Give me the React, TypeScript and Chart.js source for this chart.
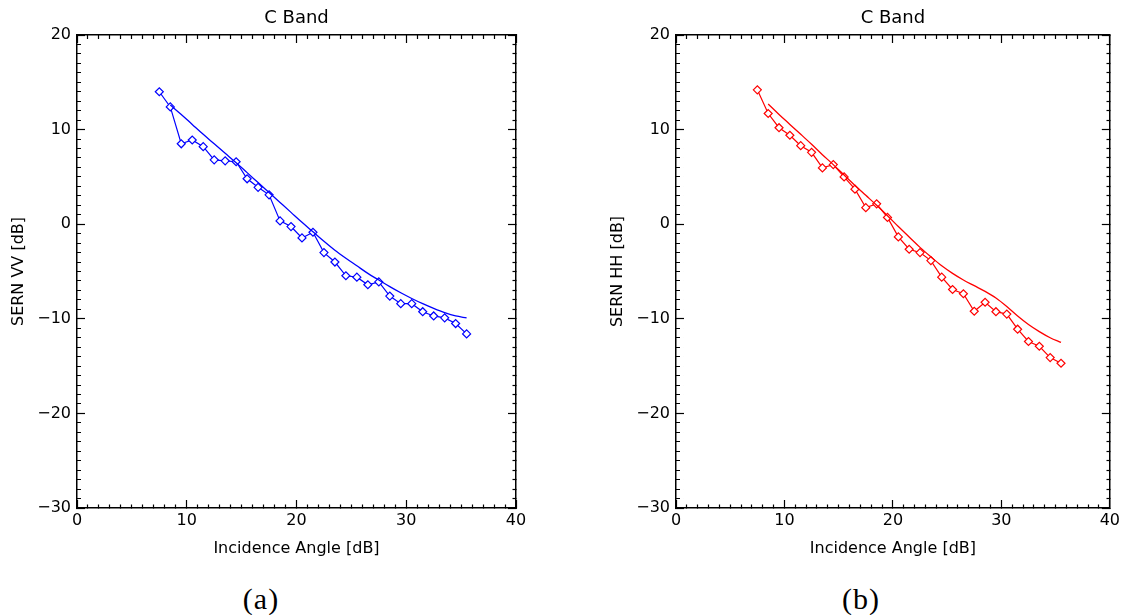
import React, { useEffect, useRef } from "react";
import { Chart, registerables } from "chart.js";

Chart.register(...registerables);

// ---------- data ----------
const angles = [7.5, 8.5, 9.5, 10.5, 11.5, 12.5, 13.5, 14.5, 15.5, 16.5, 17.5, 18.5, 19.5, 20.5, 21.5, 22.5, 23.5, 24.5, 25.5, 26.5, 27.5, 28.5, 29.5, 30.5, 31.5, 32.5, 33.5, 34.5, 35.5];
const sernVV = [14.0, 12.4, 8.5, 8.9, 8.2, 6.8, 6.7, 6.6, 4.8, 3.9, 3.1, 0.35, -0.25, -1.45, -0.85, -3.0, -4.0, -5.45, -5.6, -6.4, -6.1, -7.6, -8.4, -8.4, -9.25, -9.7, -9.9, -10.5, -11.6];
const sernHH = [14.2, 11.7, 10.2, 9.4, 8.3, 7.6, 5.95, 6.3, 5.0, 3.7, 1.75, 2.15, 0.72, -1.34, -2.65, -3.0, -3.85, -5.6, -6.9, -7.35, -9.2, -8.25, -9.25, -9.5, -11.1, -12.4, -12.9, -14.1, -14.7];
const fitAngles = [8.5, 9.5, 10.5, 11.5, 12.5, 13.5, 14.5, 15.5, 16.5, 17.5, 18.5, 19.5, 20.5, 21.5, 22.5, 23.5, 24.5, 25.5, 26.5, 27.5, 28.5, 29.5, 30.5, 31.5, 32.5, 33.5, 34.5, 35.5];
const fitVV = [12.6, 11.6, 10.55, 9.5, 8.5, 7.5, 6.5, 5.45, 4.4, 3.35, 2.3, 1.25, 0.2, -0.8, -1.8, -2.75, -3.6, -4.4, -5.2, -5.9, -6.6, -7.25, -7.85, -8.4, -8.9, -9.35, -9.7, -9.9];
const fitHH = [12.7, 11.6, 10.55, 9.5, 8.45, 7.35, 6.3, 5.2, 4.1, 3.05, 2.0, 0.9, -0.25, -1.35, -2.45, -3.45, -4.4, -5.2, -5.9, -6.5, -7.1, -7.8, -8.7, -9.7, -10.6, -11.35, -12.0, -12.5];

const xTickStep = 1;
const yTickStep = 1;
const majorEvery = 10;
const xRange = [0, 40];
const yRange = [-30, 20];
const chartTitle = "C Band";
const xTitle = "Incidence Angle [dB]";
const yTitles = ["SERN VV [dB]", "SERN HH [dB]"];
const captions = ["(a)", "(b)"];

const FONT = "'DejaVu Sans', 'Liberation Sans', sans-serif";

const isMajor = (v: number) => Math.abs(Math.round(v) % majorEvery) === 0;
const fmt = (v: any) => {
  const n = Number(v);
  if (!isMajor(n)) return "";
  return n < 0 ? "\u2212" + Math.abs(n) : String(n);
};

// dash patterns so that minor ticks are half-length, starting at the border
const DASH_FROM_START = [4, 100];
const DASH_FROM_END = [0.01, 4, 4, 100];

function axis(pos: string, titleText?: string) {
  const isX = pos === "bottom" || pos === "top";
  const range = isX ? xRange : yRange;
  const showLabels = pos === "bottom" || pos === "left";
  const startsAtBorder = pos === "bottom" || pos === "right";
  const cfg: any = {
    type: "linear",
    position: pos,
    min: range[0],
    max: range[1],
    ticks: {
      stepSize: isX ? xTickStep : yTickStep,
      display: showLabels,
      autoSkip: false,
      color: "#000",
      font: { family: FONT, size: 16 },
      padding: isX ? 11 : 14,
      callback: fmt,
      maxRotation: 0,
      minRotation: 0,
    },
    grid: {
      drawOnChartArea: false,
      drawTicks: true,
      tickLength: -8,
      tickColor: "#000",
      tickWidth: 1.2,
      color: "#000",
      tickBorderDash: (ctx: any) =>
        ctx.tick && isMajor(ctx.tick.value) ? [] : startsAtBorder ? DASH_FROM_START : DASH_FROM_END,
    },
    border: { display: true, color: "#000", width: 1.5 },
    title: { display: false },
  };
  if (showLabels && titleText) {
    cfg.title = {
      display: true,
      text: titleText,
      color: "#000",
      font: { family: FONT, size: 16, lineHeight: 1.2 },
      padding: isX ? { top: 0, bottom: 12 } : { top: 9, bottom: 0 },
    };
  }
  cfg.afterFit = (s: any) => {
    if (isX) s.height = showLabels ? 62 : 0;
    else s.width = showLabels ? 77 : 0;
  };
  return cfg;
}

function Panel({ vals, fit, color, yTitle, padL, padR, left, width }: any) {
  const ref = useRef<HTMLCanvasElement>(null);
  useEffect(() => {
    if (!ref.current) return;
    const chart = new Chart(ref.current, {
      type: "line",
      data: {
        datasets: [
          {
            label: "fit",
            data: fitAngles.map((x, i) => ({ x, y: fit[i] })),
            borderColor: color,
            borderWidth: 1.3,
            pointRadius: 0,
            cubicInterpolationMode: "monotone",
            fill: false,
            xAxisID: "x",
            yAxisID: "y",
          },
          {
            label: "data",
            data: angles.map((x, i) => ({ x, y: vals[i] })),
            borderColor: color,
            borderWidth: 1.2,
            pointStyle: "rectRot",
            pointRadius: 4,
            pointBorderWidth: 1.2,
            pointBorderColor: color,
            pointBackgroundColor: "#fff",
            tension: 0,
            fill: false,
            xAxisID: "x",
            yAxisID: "y",
          },
        ],
      },
      options: {
        responsive: false,
        animation: false,
        devicePixelRatio: 1,
        layout: { padding: { left: padL, right: padR, top: 0, bottom: 0 } },
        plugins: {
          legend: { display: false },
          tooltip: { enabled: false },
          title: {
            display: true,
            text: chartTitle,
            fullSize: false,
            color: "#000",
            font: { family: FONT, size: 18, weight: "normal", lineHeight: 1.2 },
            padding: { top: 8, bottom: 5.4 },
          },
        },
        scales: {
          x: axis("bottom", xTitle),
          xTop: axis("top"),
          y: axis("left", yTitle),
          yRight: axis("right"),
        },
      } as any,
    });
    return () => chart.destroy();
  }, []);
  return (
    <canvas
      ref={ref}
      width={width}
      height={570}
      style={{ position: "absolute", left, top: 0, width, height: 570 }}
    />
  );
}

export default function App() {
  const capStyle: any = {
    position: "absolute",
    top: 582,
    fontFamily: "'Liberation Serif', 'Times New Roman', serif",
    fontSize: 30,
    lineHeight: "34px",
    letterSpacing: "1px",
    color: "#000",
    width: 100,
    textAlign: "center",
  };
  return (
    <div style={{ position: "fixed", left: 0, top: 0, width: 1131, height: 615, background: "#fff", overflow: "hidden" }}>
      <Panel vals={sernVV} fit={fitVV} color="#0000ff" yTitle={yTitles[0]} padL={0} padR={49} left={0} width={565} />
      <Panel vals={sernHH} fit={fitHH} color="#ff0000" yTitle={yTitles[1]} padL={34} padR={17} left={565} width={566} />
      <div style={{ ...capStyle, left: 211 }}>{captions[0]}</div>
      <div style={{ ...capStyle, left: 811 }}>{captions[1]}</div>
    </div>
  );
}
